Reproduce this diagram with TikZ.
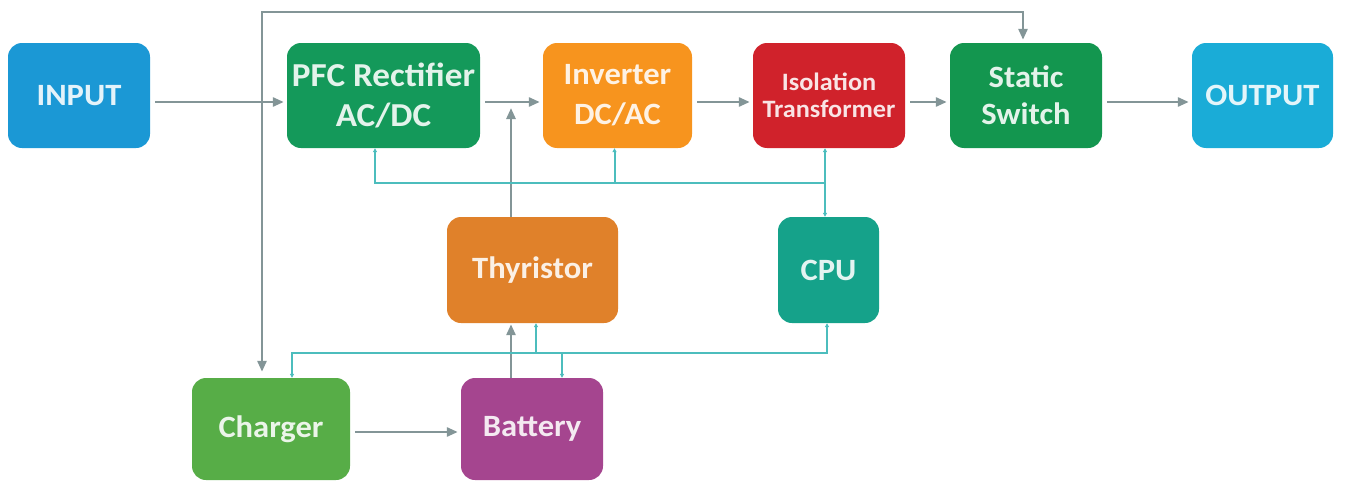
\documentclass[tikz,border=0pt]{standalone}
\usepackage{fontspec}
\setmainfont[FakeStretch=1.05]{Carlito}
\usetikzlibrary{arrows.meta}
\definecolor{cInput}{HTML}{1B98D5}
\definecolor{cPFC}{HTML}{14995A}
\definecolor{cInv}{HTML}{F7941E}
\definecolor{cIso}{HTML}{D0222B}
\definecolor{cSS}{HTML}{13964F}
\definecolor{cOut}{HTML}{1AACD7}
\definecolor{cThy}{HTML}{E0812A}
\definecolor{cCPU}{HTML}{15A28A}
\definecolor{cChg}{HTML}{57AD47}
\definecolor{cBat}{HTML}{A5458F}
\definecolor{cGrey}{HTML}{839597}
\definecolor{cTeal}{HTML}{4CBDBD}
\tikzset{
  bx/.style={fill=#1, text=white!88!#1, rounded corners=14pt, inner sep=0pt,
    align=center, font=\bfseries\fontsize{31}{40}\selectfont},
  garrow/.style={draw=cGrey, line width=2.6pt,
    -{Triangle[length=11pt,width=9pt]}, shorten <=5pt, shorten >=3pt},
  tline/.style={draw=cTeal, line width=2pt},
  tip/.tip={Triangle[length=4pt,width=4pt]}
}
\begin{document}
\begin{tikzpicture}[x=1pt,y=-1pt]
\useasboundingbox (0,0) rectangle (1345,482);
% boxes
\node[bx=cInput, minimum width=142pt, minimum height=105pt] (inp) at (79,95.5) {INPUT};
\node[bx=cPFC, minimum width=193pt, minimum height=105pt, font=\bfseries\fontsize{33.5}{40}\selectfont] (pfc) at (383.5,95.5) {PFC Rectifier\\AC/DC};
\node[bx=cInv, minimum width=149pt, minimum height=105pt] (inv) at (617.5,95.5) {Inverter\\DC/AC};
\node[bx=cIso, minimum width=152pt, minimum height=105pt, font=\bfseries\fontsize{25}{27}\selectfont] (iso) at (829,95.5) {Isolation\\Transformer};
\node[bx=cSS, minimum width=152pt, minimum height=105pt, font=\bfseries\fontsize{31}{37}\selectfont] (ss) at (1026,95.5) {Static\\Switch};
\node[bx=cOut, minimum width=141pt, minimum height=105pt] (out) at (1262.5,95.5) {OUTPUT};
\node[bx=cThy, minimum width=171pt, minimum height=106pt] (thy) at (532.5,270) {Thyristor};
\node[bx=cCPU, minimum width=101pt, minimum height=106pt] (cpu) at (828.5,270) {CPU};
\node[bx=cChg, minimum width=158pt, minimum height=102pt] (chg) at (271,429) {Charger};
\node[bx=cBat, minimum width=142pt, minimum height=102pt] (bat) at (532,429) {Battery};
% coordinates
\coordinate (j) at (262,102);
\coordinate (tl) at (262,12);
\coordinate (thyend) at (511,105);
\coordinate (b1) at (825,183);
\coordinate (b2) at (292,353);
\coordinate (b3) at (536,353);
\coordinate (b4) at (562,353);
% grey power path
\draw[garrow] ([yshift=-6.5pt]inp.east) -- ([yshift=-6.5pt]pfc.west);
\draw[garrow] ([yshift=-6.5pt]pfc.east) -- ([yshift=-6.5pt]inv.west);
\draw[garrow] ([yshift=-6.5pt]inv.east) -- ([yshift=-6.5pt]iso.west);
\draw[garrow] ([yshift=-6.5pt]iso.east) -- ([yshift=-6.5pt]ss.west);
\draw[garrow] ([yshift=-6.5pt]ss.east) -- ([yshift=-6.5pt]out.west);
\draw[garrow, shorten <=0pt] (j) -- (tl) -| ([xshift=-3pt]ss.north);
\draw[garrow, shorten <=0pt, shorten >=6pt] (j) -- (j |- chg.north);
\draw[garrow, shorten <=0pt] ([xshift=-21.5pt]thy.north) -- (thyend);
\draw[garrow, shorten <=0pt, shorten >=1pt] ([xshift=-21pt]bat.north) -- ([xshift=-21.5pt]thy.south);
\draw[garrow] ([yshift=-3pt]chg.east) -- ([yshift=-3pt]bat.west);
% teal control lines
\draw[tline, tip-] ([xshift=-8.5pt]pfc.south) |- (b1);
\draw[tline, tip-] ([xshift=-3pt]inv.south) -- ([xshift=-3pt]inv.south |- b1);
\draw[tline, tip-tip] ([xshift=-4pt]iso.south) -- ([xshift=-4pt]iso.south |- cpu.north);
\draw[tline, tip-tip] ([xshift=-1.5pt]cpu.south) |- (b2) -- (b2 |- chg.north);
\draw[tline, -tip] (b3) -- (b3 |- thy.south);
\draw[tline, -tip] (b4) -- (b4 |- bat.north);
\end{tikzpicture}
\end{document}
